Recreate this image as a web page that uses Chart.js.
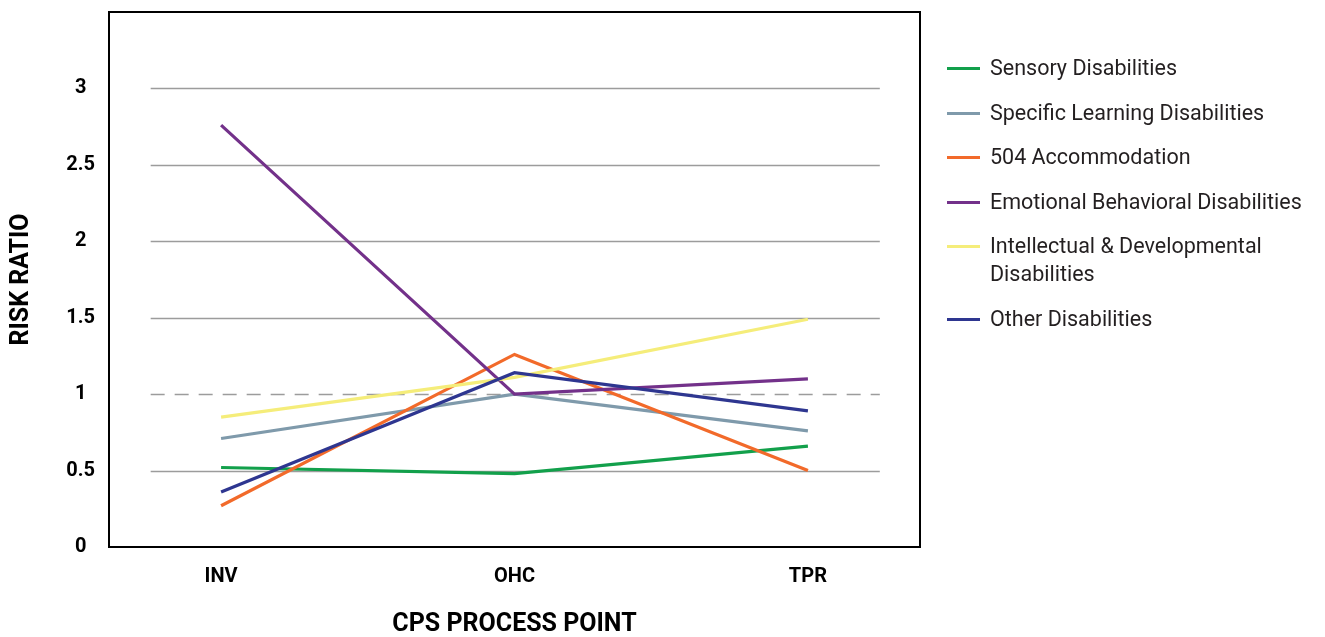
<!DOCTYPE html>
<html>
<head>
<meta charset="utf-8">
<script src="https://cdn.jsdelivr.net/npm/chart.js@4"></script>
<style>
html,body{margin:0;padding:0;background:#fff;}
#wrap{position:relative;width:1325px;height:637px;}
#legend{position:absolute;left:947px;top:54px;font-family:Roboto,"Noto Sans",sans-serif;font-size:21.5px;color:#231f20;}
.item{display:flex;align-items:flex-start;margin-bottom:16.5px;line-height:28px;}
.swatch{width:33px;height:3px;margin-top:13px;margin-right:10px;flex:none;}
.txt{white-space:pre-line;}
</style>
</head>
<body>
<div id="wrap">
<canvas id="chart" width="1325" height="637"></canvas>
<div id="legend"></div>
</div>
<script>

// ================= DATA =================

const categories=["INV","OHC","TPR"];

const seriesNames=[
"Sensory Disabilities",
"Specific Learning Disabilities",
"504 Accommodation",
"Emotional Behavioral Disabilities",
"Intellectual & Developmental\nDisabilities",
"Other Disabilities"
];

const sensory=[0.52,0.48,0.66];
const learning=[0.71,1.00,0.76];
const accommodation504=[0.27,1.26,0.50];
const emotional=[2.76,1.00,1.10];
const intellectual=[0.85,1.11,1.49];
const other=[0.36,1.14,0.89];

const yTicks=[0,0.5,1,1.5,2,2.5,3];
const referenceLine=1;

const colors=["#12a04b","#7f9aab","#f26a2a","#73318a","#f5ed7a","#2e3690"];

// ================= CHART =================

const seriesValues=[sensory,learning,accommodation504,emotional,intellectual,other];

const datasets=seriesValues.map((vals,i)=>({
label:seriesNames[i].replace("\n"," "),
data:vals.map((v,j)=>({x:j,y:v})),
borderColor:colors[i],
backgroundColor:colors[i],
borderWidth:3.2,
pointRadius:0,
tension:0,
order:seriesValues.length-i
}));

// grid lines (short) + dashed reference line + frame
const framePlugin={
id:"frame",
beforeDatasetsDraw(chart){
const {ctx,scales}=chart;
const x0=scales.x.getPixelForValue(-0.24);
const x1=scales.x.getPixelForValue(2.245);
ctx.save();
ctx.lineWidth=1.5;
yTicks.forEach(t=>{
if(t===0) return;
const y=Math.round(scales.y.getPixelForValue(t))+0.5;
ctx.strokeStyle="#9c9c9c";
ctx.setLineDash(t===referenceLine?[14,10]:[]);
ctx.beginPath();
ctx.moveTo(x0,y);
ctx.lineTo(x1,y);
ctx.stroke();
});
ctx.restore();
},
afterDraw(chart){
const {ctx,chartArea}=chart;
ctx.save();
ctx.strokeStyle="#000";
ctx.lineWidth=2;
ctx.strokeRect(chartArea.left,chartArea.top,chartArea.right-chartArea.left,chartArea.bottom-chartArea.top);
ctx.restore();
}
};

Chart.defaults.font.family="Roboto, 'Noto Sans', sans-serif";
Chart.defaults.color="#000";

new Chart(document.getElementById("chart"),{
type:"line",
data:{datasets:datasets},
options:{
responsive:false,
animation:false,
layout:{padding:{top:12,right:405,left:0,bottom:0}},
plugins:{legend:{display:false},tooltip:{enabled:false}},
scales:{
x:{
type:"linear",
min:-0.382,
max:2.382,
afterFit(s){s.height=90;s.paddingLeft=0;s.paddingRight=0;},
grid:{display:false,drawTicks:false},
border:{display:false},
ticks:{
stepSize:1,
includeBounds:false,
autoSkip:false,
maxRotation:0,
padding:18,
font:{size:20,weight:"bold"},
callback:v=>Number.isInteger(v)?categories[v]:""
},
title:{display:true,text:"CPS PROCESS POINT",font:{size:25,weight:"bold"},padding:{top:0,bottom:-3}}
},
y:{
min:0,
max:3.5,
afterFit(s){s.width=109;s.paddingTop=0;s.paddingBottom=0;},
grid:{display:false,drawTicks:false},
border:{display:false},
ticks:{
stepSize:0.5,
padding:14,
crossAlign:"center",
font:{size:20,weight:"bold"},
callback:v=>yTicks.includes(v)?v:""
},
title:{display:true,text:"RISK RATIO",font:{size:25,weight:"bold"},padding:{top:7,bottom:0}}
}
}
},
plugins:[framePlugin]
});

// ================= LEGEND =================

const legend=document.getElementById("legend");
seriesNames.forEach((name,i)=>{
const item=document.createElement("div");
item.className="item";
const sw=document.createElement("span");
sw.className="swatch";
sw.style.background=colors[i];
const tx=document.createElement("span");
tx.className="txt";
tx.textContent=name;
item.appendChild(sw);
item.appendChild(tx);
legend.appendChild(item);
});

</script>
</body>
</html>
